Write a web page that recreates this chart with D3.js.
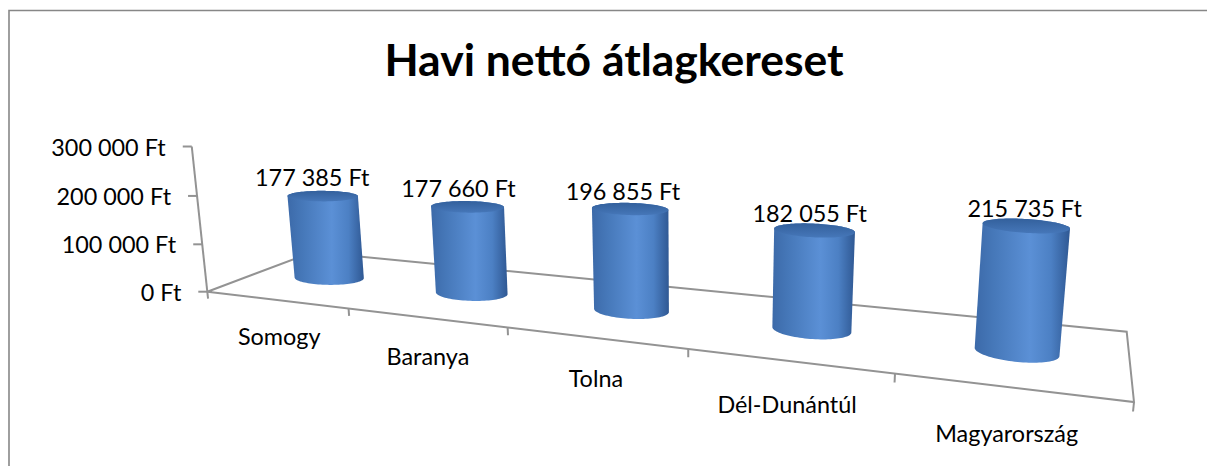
<!DOCTYPE html>
<html>
<head>
<meta charset="utf-8">
<script src="https://cdn.jsdelivr.net/npm/d3@7"></script>
<style>
  body { margin: 0; background: #fff; }
  text { font-family: Lato, "Open Sans", sans-serif; fill: #000; }
</style>
</head>
<body>
<div class="chart"></div>
<script>
// data
const title = 'Havi nettó átlagkereset';
const categories = ['Somogy', 'Baranya', 'Tolna', 'Dél-Dunántúl', 'Magyarország'];
const values = [177385, 177660, 196855, 182055, 215735];
const yTicks = [0, 100000, 200000, 300000];

const width = 1207, height = 466;

const svg = d3.select('.chart').append('svg')
    .attr('width', width).attr('height', height)
    .attr('viewBox', '0 0 ' + width + ' ' + height);

// ---- perspective set-up --------------------------------------------
// floor corners on screen: front-left, front-right, back-right, back-left
const floor = [[207.3, 291.7], [1134, 402], [1126.7, 331.7], [313, 252]];
// vanishing point of the vertical direction (far below the picture)
const vp = [690, 4800];

// square -> quad homography (Heckbert)
function quadMap(p) {
  const [[x0, y0], [x1, y1], [x2, y2], [x3, y3]] = p;
  const sx = x0 - x1 + x2 - x3, sy = y0 - y1 + y2 - y3;
  const dx1 = x1 - x2, dx2 = x3 - x2, dy1 = y1 - y2, dy2 = y3 - y2;
  const den = dx1 * dy2 - dx2 * dy1;
  const g = (sx * dy2 - sy * dx2) / den,
        h = (dx1 * sy - dy1 * sx) / den;
  return {
    a: x1 - x0 + g * x1, b: x3 - x0 + h * x3, c: x0,
    d: y1 - y0 + g * y1, e: y3 - y0 + h * y3, f: y0,
    g: g, h: h
  };
}
const M = quadMap(floor);

// u: along categories (0..1), t: height term, v: depth (0 front, 1 back)
function project(u, t, v) {
  const w = M.g * u + M.h * v + 1 + t;
  return [(M.a * u + M.b * v + M.c + t * vp[0]) / w,
          (M.d * u + M.e * v + M.f + t * vp[1]) / w];
}

const x = d3.scaleBand().domain(categories).range([0, 1]);
const y = d3.scaleLinear().domain([0, 300000]).range([0, -0.0312]);
const fmt = v => d3.format(',')(v).replace(/,/g, ' ') + ' Ft';

const line = d3.line();

// ---- gradients -------------------------------------------------------
const defs = svg.append('defs');
const bodyGrad = defs.append('linearGradient').attr('id', 'cylBody')
    .attr('x1', 0).attr('x2', 1).attr('y1', 0).attr('y2', 0);
[[0, '#3c6aa9'], [0.2, '#4678b9'], [0.58, '#5b90d6'], [0.8, '#4c80c4'], [1, '#2f5893']]
  .forEach(s => bodyGrad.append('stop').attr('offset', s[0]).attr('stop-color', s[1]));
const topGrad = defs.append('linearGradient').attr('id', 'cylTop')
    .attr('x1', 0).attr('x2', 0).attr('y1', 0).attr('y2', 1);
[[0, '#33609c'], [1, '#4677b9']]
  .forEach(s => topGrad.append('stop').attr('offset', s[0]).attr('stop-color', s[1]));

// ---- chart border ----------------------------------------------------
svg.append('path')
    .attr('d', 'M9,' + (height + 5) + 'V10.5H' + (width + 5))
    .attr('fill', 'none').attr('stroke', '#878787').attr('stroke-width', 1.6);

// ---- title -----------------------------------------------------------
svg.append('text')
    .attr('x', 614).attr('y', 76)
    .attr('text-anchor', 'middle')
    .style('font-size', '44.5px').style('font-weight', 700)
    .text(title);

// ---- floor + axes ----------------------------------------------------
const grid = svg.append('g')
    .attr('fill', 'none').attr('stroke', '#939393').attr('stroke-width', 2);

grid.append('path')
    .attr('d', line([project(0, 0, 0), project(1, 0, 0), project(1, 0, 1),
                     project(0, 0, 1), project(0, 0, 0)]));

// value axis at front-left corner
grid.append('path').attr('d', line([project(0, y(0), 0), project(0, y(300000), 0)]));

yTicks.forEach(function (d) {
  const p = project(0, y(d), 0);
  grid.append('path').attr('d', line([[p[0] - 9, p[1]], p]));
  svg.append('text')
      .attr('x', p[0] - 26).attr('y', p[1])
      .attr('text-anchor', 'end').attr('dominant-baseline', 'central')
      .style('font-size', '23.4px')
      .text(fmt(d));
});

// category ticks on the front edge
d3.range(categories.length + 1).forEach(function (i) {
  const u = i / categories.length;
  grid.append('path').attr('d', line([project(u, 0, 0), project(u, y(-15000), 0)]));
});

// category labels
svg.selectAll('.cat').data(categories).enter().append('text')
    .attr('class', 'cat')
    .attr('x', d => project(x(d) + x.bandwidth() / 2, y(-76000), 0)[0])
    .attr('y', d => project(x(d) + x.bandwidth() / 2, y(-76000), 0)[1])
    .attr('text-anchor', 'middle').attr('dominant-baseline', 'central')
    .style('font-size', '23.4px')
    .text(d => d);

// ---- cylinders -------------------------------------------------------
// footprint radius along the category axis shrinks a bit towards the
// front, as the picture's cylinders grow slower than the floor does
const R = 0.045, rv = 0.15, vc = 0.5;
const angles = d3.range(0, 2 * Math.PI, Math.PI / 48);

const cyl = svg.selectAll('.cyl').data(categories).enter().append('g').attr('class', 'cyl');

cyl.each(function (d, i) {
  const g = d3.select(this);
  const uc = x(d) + x.bandwidth() / 2;
  const ru = R * Math.pow(M.g * uc + M.h * vc + 1, 0.75);
  const t = y(values[i]);
  const ring = tt => angles.map(a => project(uc + ru * Math.cos(a), tt, vc + rv * Math.sin(a)));
  const bottomRing = ring(0), topRing = ring(t);

  g.append('path')
      .attr('d', line(d3.polygonHull(bottomRing.concat(topRing))) + 'Z')
      .attr('fill', 'url(#cylBody)');
  g.append('path')
      .attr('d', line(topRing) + 'Z')
      .attr('fill', 'url(#cylTop)');

  const lp = project(uc, t, 0.4);
  svg.append('text')
      .attr('x', lp[0]).attr('y', lp[1] - 22)
      .attr('text-anchor', 'middle').attr('dominant-baseline', 'central')
      .style('font-size', '23.4px')
      .text(fmt(values[i]));
});
</script>
</body>
</html>
